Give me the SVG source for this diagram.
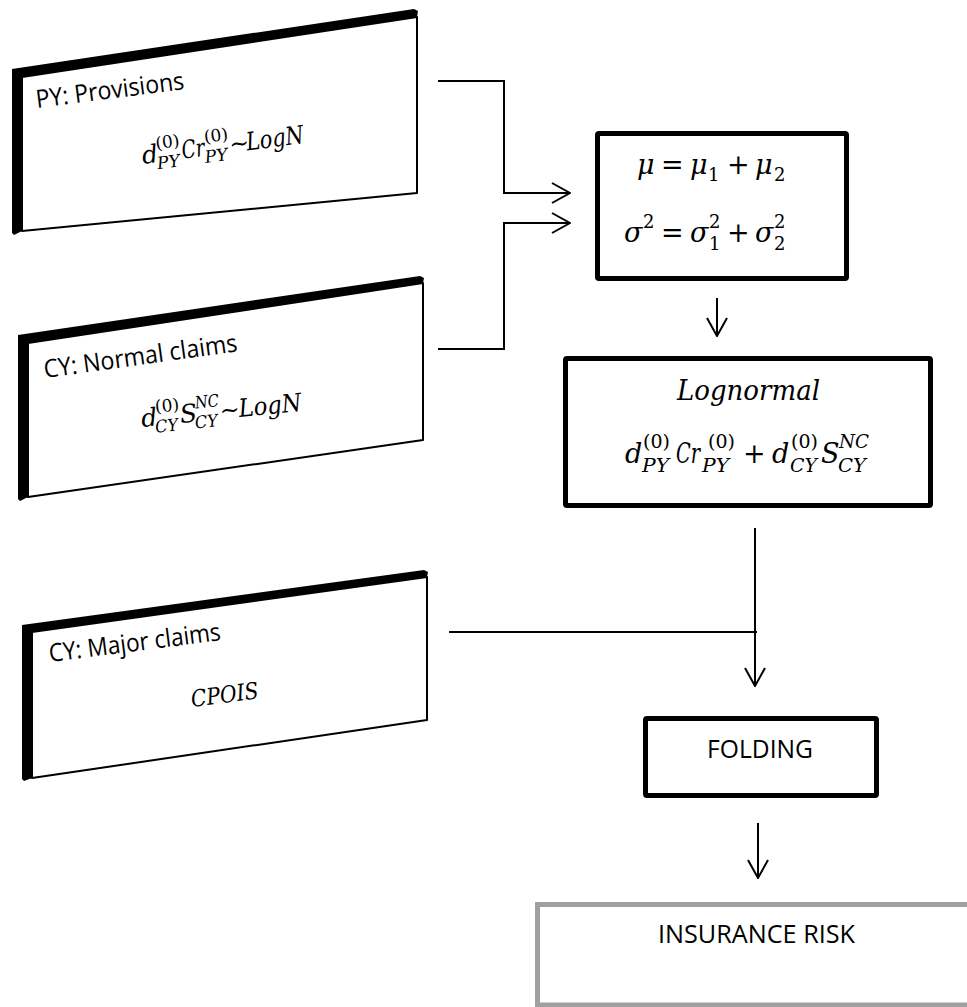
<svg xmlns="http://www.w3.org/2000/svg" width="967" height="1007" viewBox="0 0 967 1007">
  <style>
    .depth { fill: #000; }
    .face { fill: #fff; stroke: #000; stroke-width: 2; stroke-linejoin: round; }
    .box { fill: #fff; stroke: #000; stroke-width: 5; stroke-linejoin: round; }
    .box-grey { fill: #fff; stroke: #a0a0a0; stroke-width: 5; }
    .lbl { font-family: "Open Sans", "Liberation Sans", sans-serif; font-size: 25px; fill: #000; }
    .mi { font-family: "DejaVu Serif", "Liberation Serif", serif; font-style: italic; fill: #000; }
    .mu { font-family: "DejaVu Serif", "Liberation Serif", serif; font-style: normal; fill: #000; }
    .conn { fill: none; stroke: #000; stroke-width: 2; }
  </style>
  <defs>
    <marker id="open-arrow" markerUnits="userSpaceOnUse" viewBox="0 0 20 24" refX="19" refY="12" markerWidth="20" markerHeight="24" orient="auto">
      <path d="M1,2 L19,12 L1,22" fill="none" stroke="#000" stroke-width="2"/>
    </marker>
  </defs>

  <!-- tilted input panels -->
  <g id="py-provisions">
    <path class="depth" d="M12,69 L414,9 L418,11 L417,17 L22,77 L22,231 L14,235 L12,233 Z"/>
    <path class="face" d="M22,77 L417,17 L417,193 L22,231 Z"/>
    <text class="lbl" transform="translate(37,108) rotate(-7.3)" textLength="149" lengthAdjust="spacingAndGlyphs">PY: Provisions</text>
    <g transform="translate(143,164) rotate(-7.4)">
      <text class="mi" x="0" y="0" font-size="25">d</text>
      <text class="mu" x="15" y="-13" font-size="17">(0)</text>
      <text class="mi" x="14" y="7" font-size="17" textLength="23" lengthAdjust="spacingAndGlyphs">PY</text>
      <text class="mi" x="40" y="0" font-size="25" textLength="23" lengthAdjust="spacingAndGlyphs">Cr</text>
      <text class="mu" x="64" y="-13" font-size="17">(0)</text>
      <text class="mi" x="62" y="7" font-size="17" textLength="23" lengthAdjust="spacingAndGlyphs">PY</text>
      <text class="mu" x="88" y="0" font-size="24">~</text>
      <text class="mi" x="105" y="0" font-size="25" textLength="58" lengthAdjust="spacingAndGlyphs">LogN</text>
    </g>
  </g>

  <g id="cy-normal-claims">
    <path class="depth" d="M18,335 L420,276 L424,278 L423,283 L28,343 L28,497 L20,501 L18,499 Z"/>
    <path class="face" d="M28,343 L423,283 L423,440 L28,497 Z"/>
    <text class="lbl" transform="translate(45,378) rotate(-7.9)" textLength="195" lengthAdjust="spacingAndGlyphs">CY: Normal claims</text>
    <g transform="translate(142,427) rotate(-5.8)">
      <text class="mi" x="0" y="0" font-size="25">d</text>
      <text class="mu" x="15" y="-13" font-size="17">(0)</text>
      <text class="mi" x="13" y="7" font-size="17" textLength="23" lengthAdjust="spacingAndGlyphs">CY</text>
      <text class="mi" x="39" y="0" font-size="25">S</text>
      <text class="mi" x="55" y="-13" font-size="17" textLength="24" lengthAdjust="spacingAndGlyphs">NC</text>
      <text class="mi" x="53" y="7" font-size="17" textLength="23" lengthAdjust="spacingAndGlyphs">CY</text>
      <text class="mu" x="79" y="0" font-size="24">~</text>
      <text class="mi" x="98" y="0" font-size="25" textLength="63" lengthAdjust="spacingAndGlyphs">LogN</text>
    </g>
  </g>

  <g id="cy-major-claims">
    <path class="depth" d="M22,625 L424,570 L428,572 L427,577 L32,632 L32,778 L24,781 L22,779 Z"/>
    <path class="face" d="M32,632 L427,577 L427,720 L32,778 Z"/>
    <text class="lbl" transform="translate(50,662) rotate(-7.3)" textLength="173" lengthAdjust="spacingAndGlyphs">CY: Major claims</text>
    <text class="mi" transform="translate(192,707) rotate(-7.5)" font-size="23" textLength="68" lengthAdjust="spacingAndGlyphs">CPOIS</text>
  </g>

  <!-- parameter sum -->
  <g id="moments">
    <rect class="box" x="597.5" y="133.5" width="249" height="145" rx="1.5"/>
    <text class="mi" x="637" y="174" font-size="27">μ</text>
    <text class="mu" x="661" y="174" font-size="27">=</text>
    <text class="mi" x="690" y="174" font-size="27">μ</text>
    <text class="mu" x="708" y="181" font-size="18">1</text>
    <text class="mu" x="727" y="174" font-size="27">+</text>
    <text class="mi" x="755" y="174" font-size="27">μ</text>
    <text class="mu" x="774" y="181" font-size="18">2</text>

    <text class="mi" x="624" y="242" font-size="27">σ</text>
    <text class="mu" x="643" y="228" font-size="18">2</text>
    <text class="mu" x="661" y="242" font-size="27">=</text>
    <text class="mi" x="690" y="242" font-size="27">σ</text>
    <text class="mu" x="709" y="228" font-size="18">2</text>
    <text class="mu" x="709" y="250" font-size="18">1</text>
    <text class="mu" x="727" y="242" font-size="27">+</text>
    <text class="mi" x="755" y="242" font-size="27">σ</text>
    <text class="mu" x="774" y="228" font-size="18">2</text>
    <text class="mu" x="774" y="250" font-size="18">2</text>
  </g>

  <g id="lognormal">
    <rect class="box" x="565.5" y="358.5" width="365" height="147" rx="1.5"/>
    <text class="mi" x="677" y="400" font-size="27" textLength="143" lengthAdjust="spacingAndGlyphs">Lognormal</text>
    <text class="mi" x="625" y="463" font-size="27">d</text>
    <text class="mu" x="643" y="448" font-size="19">(0)</text>
    <text class="mi" x="642" y="472" font-size="19" textLength="27" lengthAdjust="spacingAndGlyphs">PY</text>
    <text class="mi" x="676" y="463" font-size="27" textLength="24" lengthAdjust="spacingAndGlyphs">Cr</text>
    <text class="mu" x="708" y="448" font-size="19">(0)</text>
    <text class="mi" x="702" y="472" font-size="19" textLength="27" lengthAdjust="spacingAndGlyphs">PY</text>
    <text class="mu" x="743" y="463" font-size="27">+</text>
    <text class="mi" x="772" y="463" font-size="27">d</text>
    <text class="mu" x="791" y="448" font-size="19">(0)</text>
    <text class="mi" x="790" y="472" font-size="19" textLength="27" lengthAdjust="spacingAndGlyphs">CY</text>
    <text class="mi" x="821" y="463" font-size="27">S</text>
    <text class="mi" x="839" y="448" font-size="19" textLength="30" lengthAdjust="spacingAndGlyphs">NC</text>
    <text class="mi" x="838" y="472" font-size="19" textLength="28" lengthAdjust="spacingAndGlyphs">CY</text>
  </g>

  <g id="folding">
    <rect class="box" x="645.5" y="718.5" width="231" height="77" rx="1.5"/>
    <text class="lbl" x="707" y="758" textLength="106" lengthAdjust="spacingAndGlyphs">FOLDING</text>
  </g>

  <g id="insurance-risk">
    <rect class="box-grey" x="537.5" y="904.5" width="500" height="100.5"/>
    <text class="lbl" x="658" y="943" textLength="197" lengthAdjust="spacingAndGlyphs">INSURANCE RISK</text>
  </g>

  <!-- connectors -->
  <g id="connectors">
    <path class="conn" d="M438,81 H504 V193 H570" marker-end="url(#open-arrow)"/>
    <path class="conn" d="M438,349 H504 V223 H570" marker-end="url(#open-arrow)"/>
    <path class="conn" d="M717,298 V336" marker-end="url(#open-arrow)"/>
    <path class="conn" d="M449,632 H757"/>
    <path class="conn" d="M755,528 V686" marker-end="url(#open-arrow)"/>
    <path class="conn" d="M758,823 V878" marker-end="url(#open-arrow)"/>
  </g>
</svg>
